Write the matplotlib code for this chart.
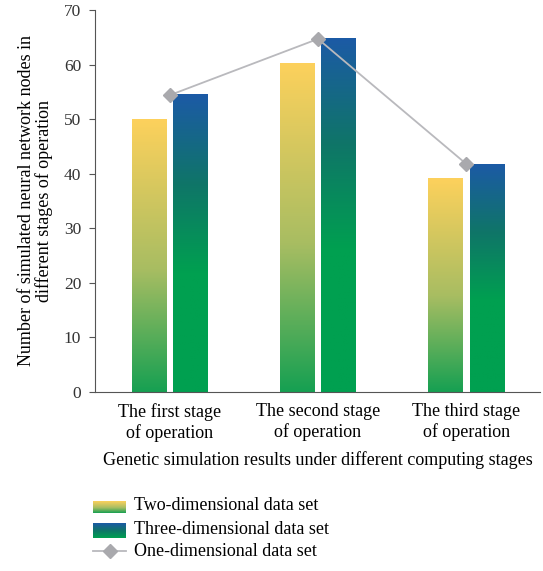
import numpy as np
import matplotlib
matplotlib.use("Agg")
import matplotlib.pyplot as plt
from matplotlib.colors import LinearSegmentedColormap

# data
stages = ["The first stage\nof operation", "The second stage\nof operation", "The third stage\nof operation"]
two_dim = [50.0, 60.3, 39.2]
three_dim = [54.6, 64.9, 41.8]
one_dim = [54.4, 64.7, 41.8]
yticks = [0, 10, 20, 30, 40, 50, 60, 70]

plt.rcParams['font.family'] = ['Liberation Serif', 'DejaVu Serif']

# bottom -> top colours
cmap_two = LinearSegmentedColormap.from_list("two", [(0, "#16a052"), (0.45, "#a8bd62"), (1, "#fdd15c")])
cmap_three = LinearSegmentedColormap.from_list("three", [(0, "#00a050"), (0.4, "#00a050"), (0.7, "#0f7568"), (1, "#1c5aa6")])

fig = plt.figure(figsize=(5.43, 5.71), dpi=100)
ax = fig.add_axes([0.175, 0.3135, 0.82, 0.669])

x = np.arange(len(stages))
w = 0.235
off = 0.14
grad = np.linspace(0, 1, 256).reshape(-1, 1)

def grad_bars(xs, vals, cmap):
    bars = ax.bar(xs, vals, width=w, color="none", edgecolor="none", zorder=2)
    for b in bars:
        x0 = b.get_x()
        im = ax.imshow(grad, extent=[x0, x0 + b.get_width(), 0, b.get_height()],
                       origin="lower", aspect="auto", cmap=cmap, zorder=2)
        im.set_clip_path(b)

grad_bars(x - off, two_dim, cmap_two)
grad_bars(x + off, three_dim, cmap_three)

ax.plot(x, one_dim, color="#b9b9bd", lw=1.3, marker="D", ms=7,
        mfc="#a9a9ad", mec="#a9a9ad", zorder=3)

ax.set_xlim(-0.505, 2.5)
ax.set_ylim(0, 70)
ax.set_yticks(yticks)
ax.set_xticks(x)
ax.set_xticklabels(stages, fontsize=13, linespacing=1.2)
ax.tick_params(axis="x", length=0, pad=8)
ax.tick_params(axis="y", length=4, labelsize=12.5, labelcolor="#333333", color="#555555", pad=6)
for s in ["top", "right"]:
    ax.spines[s].set_visible(False)
ax.spines["left"].set_color("#555555")
ax.spines["bottom"].set_color("#555555")
ax.set_xlabel("Genetic simulation results under different computing stages", fontsize=13, labelpad=7)
ax.set_ylabel("Number of simulated neural network nodes in\ndifferent stages of operation", fontsize=13,
              linespacing=1.0, labelpad=8)

# legend drawn manually so the swatches keep their gradients
lax = fig.add_axes([0, 0, 1, 1], zorder=-1)
lax.axis("off")
lax.imshow(grad, extent=[93, 126, 513, 501], origin="lower", aspect="auto", cmap=cmap_two)
lax.imshow(grad, extent=[93, 126, 538, 523], origin="lower", aspect="auto",
           cmap=LinearSegmentedColormap.from_list("t2", ["#00a050", "#0f7568", "#1c5aa6"]))
lax.plot([93, 126], [551, 551], color="#b9b9bd", lw=1.3)
lax.plot([109.5], [551], marker="D", ms=7, color="#a9a9ad")
lax.set_xlim(0, 543)
lax.set_ylim(571, 0)
labels = ["Two-dimensional data set", "Three-dimensional data set", "One-dimensional data set"]
for yy, t in zip([506, 529, 552], labels):
    lax.text(134, yy, t, fontsize=13, va="center", ha="left")

fig.savefig("out.png", dpi=100)
